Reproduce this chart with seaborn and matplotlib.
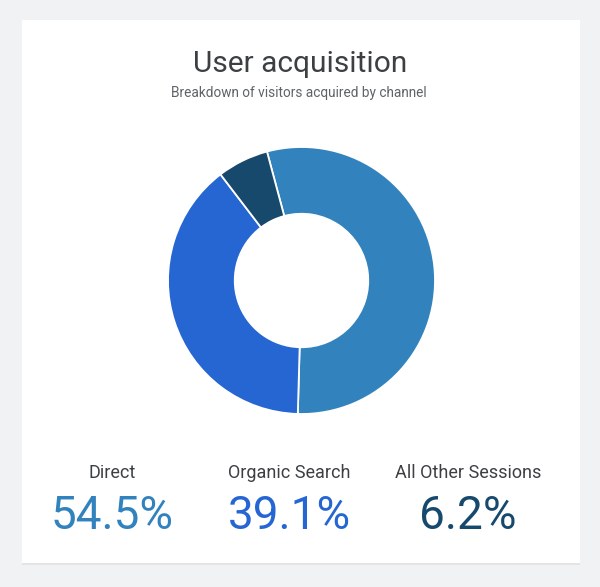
import matplotlib.pyplot as plt
import seaborn as sns
from matplotlib.patches import Rectangle

# data
channels = ["Direct", "Organic Search", "All Other Sessions"]
shares = [54.5, 39.1, 6.2]
colors = ["#3282be", "#2566d3", "#17496d"]

sns.set_theme(style="white")
plt.rcParams["font.family"] = ["Roboto", "DejaVu Sans"]

W, H = 600, 587
fig = plt.figure(figsize=(W / 100, H / 100), dpi=100)
fig.patch.set_facecolor("#f1f2f4")

# white card with a soft bottom edge
fig.patches.append(Rectangle((22 / W, 1 - 565 / H), 558 / W, 545 / H,
                             transform=fig.transFigure, facecolor="#e3e4e6",
                             edgecolor="none", zorder=0))
fig.patches.append(Rectangle((22 / W, 1 - 563 / H), 558 / W, 543 / H,
                             transform=fig.transFigure, facecolor="white",
                             edgecolor="none", zorder=0))

# donut
cx, cy, r = 301.5, 280.5, 133.5
ax = fig.add_axes([(cx - r) / W, 1 - (cy + r) / H, 2 * r / W, 2 * r / H])
ax.set_zorder(3)
ax.patch.set_alpha(0)
ax.pie(shares, colors=colors, startangle=105, counterclock=False,
       radius=1, wedgeprops=dict(width=0.5, edgecolor="white", linewidth=1.3))
ax.set_xlim(-1, 1)
ax.set_ylim(-1, 1)
ax.set_aspect("equal")
ax.axis("off")

# titles
fig.text(300 / W, 1 - 64 / H, "User acquisition", ha="center", va="center",
         fontsize=21.5, color="#3c4043", zorder=4)
fig.text(299 / W, 1 - 93 / H, "Breakdown of visitors acquired by channel",
         ha="center", va="center", fontsize=9.8, color="#5f6368", zorder=4)

# summary numbers
xs = [112, 289, 468]
for x, name, val, c in zip(xs, channels, shares, colors):
    fig.text(x / W, 1 - 473 / H, name, ha="center", va="center",
             fontsize=13, color="#3c4043", zorder=4)
    fig.text(x / W, 1 - 516 / H, f"{val}%", ha="center", va="center",
             fontsize=33, color=c, zorder=4)

fig.savefig("out.png", dpi=100)
